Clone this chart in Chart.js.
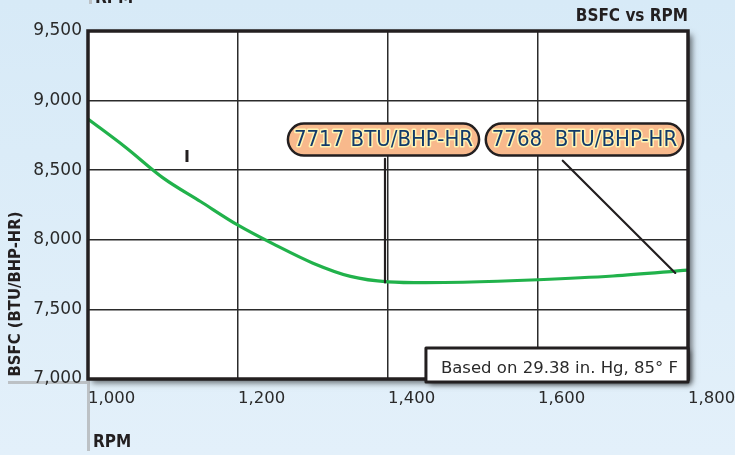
<!DOCTYPE html>
<html>
<head>
<meta charset="utf-8">
<script src="https://cdn.jsdelivr.net/npm/chart.js@4/dist/chart.umd.min.js"></script>
<style>
  html, body { margin: 0; padding: 0; background: #dcedf8; }
  #wrap { width: 735px; height: 455px; }
</style>
</head>
<body>
<div id="wrap"><canvas id="chart" width="735" height="455"></canvas></div>
<script>
// Values
const rpm  = [1000, 1050, 1100, 1150, 1200, 1250, 1300, 1350, 1400, 1450, 1500, 1600, 1700, 1800];
const bsfc = [8868, 8665, 8445, 8275, 8105, 7962, 7832, 7737, 7698, 7692, 7695, 7713, 7740, 7782];
const xTicks = [1000, 1200, 1400, 1600, 1800];
const yTicks = [7000, 7500, 8000, 8500, 9000, 9500];

const title = "BSFC vs RPM";
const xTitle = "RPM";
const yTitle = "BSFC (BTU/BHP-HR)";
const noteText = "Based on 29.38 in. Hg, 85° F";

// Callouts, anchored in data units: label centre, leader start and end
const callouts = [
  {text: "7717 BTU/BHP-HR",  at: [1394, 8720], from: [1396, 8582], to: [1396, 7694]},
  {text: "7768  BTU/BHP-HR", at: [1662, 8720], from: [1633, 8568], to: [1783, 7762]},
];
const marker = {text: "I", at: [1132, 8590]};

const DARK = "#231f20";
const COND = '"DejaVu Sans Condensed", "DejaVu Sans", sans-serif';
const SANS = '"DejaVu Sans", sans-serif';
const fmt = (v) => v.toLocaleString("en-US");

// Background, guide bars, white panel with drop shadow, then frame + annotations on top
const decor = {
  id: "decor",
  beforeDraw(chart) {
    const {ctx, chartArea: a, width, height} = chart;
    ctx.save();
    const g = ctx.createLinearGradient(0, 0, 0, height);
    g.addColorStop(0, "#d7eaf7");
    g.addColorStop(1, "#e3f0fa");
    ctx.fillStyle = g;
    ctx.fillRect(0, 0, width, height);
    ctx.fillStyle = "#bcc1c5";
    ctx.fillRect(a.left - 1, a.bottom, 3, 72);
    ctx.fillRect(8, a.bottom + 2, a.left - 8, 3);
    ctx.fillRect(a.left + 1, 0, 3, 4);
    ctx.shadowColor = "rgba(0,0,0,0.55)";
    ctx.shadowBlur = 6;
    ctx.shadowOffsetX = 4;
    ctx.shadowOffsetY = 4;
    ctx.fillStyle = "#fff";
    ctx.fillRect(a.left, a.top, a.right - a.left, a.bottom - a.top);
    ctx.restore();
  },
  afterDraw(chart) {
    const {ctx, chartArea: a} = chart;
    const xs = chart.scales.x, ys = chart.scales.y;
    const px = (p) => [xs.getPixelForValue(p[0]), ys.getPixelForValue(p[1])];
    ctx.save();
    // frame
    ctx.strokeStyle = DARK;
    ctx.lineWidth = 3.5;
    ctx.strokeRect(a.left, a.top, a.right - a.left, a.bottom - a.top);

    // leaders
    ctx.lineWidth = 2.2;
    ctx.lineCap = "round";
    callouts.forEach(c => {
      const [x1, y1] = px(c.from), [x2, y2] = px(c.to);
      ctx.beginPath(); ctx.moveTo(x1, y1); ctx.lineTo(x2, y2); ctx.stroke();
    });

    // pill labels
    ctx.font = "22px " + COND;
    ctx.textBaseline = "middle";
    ctx.textAlign = "center";
    callouts.forEach(c => {
      const [cx, cy] = px(c.at);
      const w = ctx.measureText(c.text).width + 12, h = 32;
      ctx.beginPath();
      ctx.roundRect(cx - w / 2, cy - h / 2, w, h, h / 2);
      ctx.fillStyle = "#f8b98c";
      ctx.fill();
      ctx.lineWidth = 2.5;
      ctx.strokeStyle = DARK;
      ctx.stroke();
      ctx.lineJoin = "round";
      ctx.lineWidth = 3;
      ctx.strokeStyle = "#fff4b4";
      ctx.strokeText(c.text, cx, cy + 1);
      ctx.fillStyle = "#123a6a";
      ctx.fillText(c.text, cx, cy + 1);
    });

    // stray marker
    const [mx, my] = px(marker.at);
    ctx.font = "bold 16px " + SANS;
    ctx.fillStyle = DARK;
    ctx.fillText(marker.text, mx, my);

    // note box, bottom-right
    ctx.font = "16.5px " + SANS;
    const tw = ctx.measureText(noteText).width;
    const bw = tw + 25, bh = 34;
    const bx = a.right - bw, by = a.bottom + 3 - bh;
    ctx.shadowColor = "rgba(0,0,0,0.5)";
    ctx.shadowBlur = 5;
    ctx.shadowOffsetX = 3;
    ctx.shadowOffsetY = 3;
    ctx.fillStyle = "#fff";
    ctx.fillRect(bx, by, bw, bh);
    ctx.shadowColor = "transparent";
    ctx.lineWidth = 3;
    ctx.strokeStyle = DARK;
    ctx.strokeRect(bx, by, bw, bh);
    ctx.fillStyle = "#2a2a2a";
    ctx.textAlign = "left";
    ctx.textBaseline = "alphabetic";
    ctx.fillText(noteText, bx + 15, by + 25);

    // titles
    ctx.font = "bold 17px " + COND;
    ctx.fillStyle = DARK;
    ctx.textAlign = "right";
    ctx.fillText(title, a.right, 21);
    ctx.textAlign = "left";
    ctx.fillText(xTitle, a.left + 5, 447);
    ctx.fillText(xTitle, a.left + 7, 3);
    ctx.translate(20, 294);
    ctx.rotate(-Math.PI / 2);
    ctx.textAlign = "center";
    ctx.font = "bold 16.5px " + COND;
    ctx.fillText(yTitle, 0, 0);
    ctx.restore();
  },
};

const chart = new Chart(document.getElementById("chart"), {
  type: "line",
  data: {
    datasets: [{
      data: rpm.map((r, i) => ({x: r, y: bsfc[i]})),
      borderColor: "#21b24b",
      borderWidth: 3.2,
      pointRadius: 0,
      cubicInterpolationMode: "monotone",
      fill: false,
    }],
  },
  options: {
    animation: false, responsive: false,
    layout: {padding: {top: 31, right: 47, left: 0, bottom: 0}},
    plugins: {legend: {display: false}, tooltip: {enabled: false}},
    scales: {
      x: {
        type: "linear", min: 1000, max: 1800,
        afterBuildTicks: (s) => { s.ticks = xTicks.map(v => ({value: v})); },
        afterFit: (s) => { s.height = 76; s.paddingLeft = 0; s.paddingRight = 0; },
        ticks: {align: "start", padding: 10, maxRotation: 0, color: "#2a2a2a",
                font: {size: 16.5, family: SANS}, callback: (v) => fmt(v)},
        grid: {color: "#2b2b2b", lineWidth: 1.5, drawTicks: false},
        border: {display: false},
      },
      y: {
        min: 7000, max: 9500,
        afterBuildTicks: (s) => { s.ticks = yTicks.map(v => ({value: v})); },
        afterFit: (s) => { s.width = 88; },
        ticks: {padding: 6, color: "#2a2a2a", font: {size: 17, family: SANS}, callback: (v) => fmt(v)},
        grid: {color: "#2b2b2b", lineWidth: 1.5, drawTicks: false},
        border: {display: false},
      },
    },
  },
  plugins: [decor],
});
</script>
</body>
</html>
